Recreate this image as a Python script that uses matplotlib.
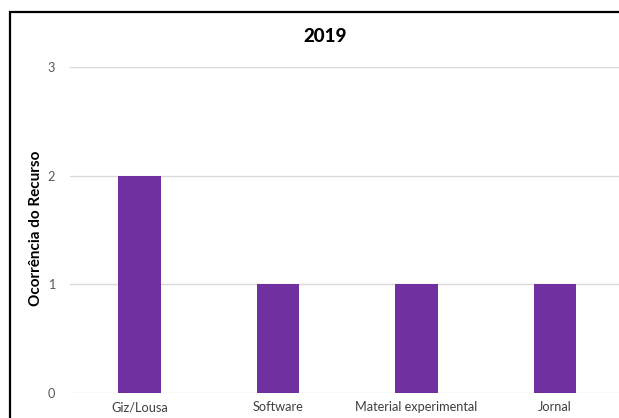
import matplotlib
matplotlib.use("Agg")
import matplotlib.pyplot as plt
from matplotlib.patches import Rectangle

categories = ["Giz/Lousa", "Software", "Material experimental", "Jornal"]
values = [2, 1, 1, 1]
yticks = [0, 1, 2, 3]

W, H = 619, 418
fig = plt.figure(figsize=(W / 100, H / 100), dpi=100)
plt.rcParams["font.family"] = ["Lato", "DejaVu Sans"]

# outer chart frame
fig.patches.append(Rectangle((9.5 / W, -0.1), 1.2, (H - 11.5) / H + 0.1,
                             transform=fig.transFigure, fill=False,
                             edgecolor="black", linewidth=1.6))

ax = fig.add_axes([70.25 / W, (H - 393) / H, 554 / W, 326 / H])
x = list(range(len(categories)))
ax.bar(x, values, width=0.31, color="#7030A0", zorder=3)
ax.set_xlim(-0.5, len(categories) - 0.5)
ax.set_ylim(0, 3)
ax.set_yticks(yticks)
ax.set_yticklabels([str(t) for t in yticks])
ax.set_xticks(x)
ax.set_xticklabels(categories)
ax.grid(axis="y", color="#d9d9d9", linewidth=1, zorder=0)
for s in ax.spines.values():
    s.set_visible(False)
ax.tick_params(axis="both", length=0, labelsize=9.2, colors="#404040")
ax.tick_params(axis="y", pad=11, colors="#595959")
ax.tick_params(axis="x", pad=6)

fig.text(36 / W, (H - 228) / H, "Ocorrência do Recurso", rotation=90,
         ha="center", va="center", fontsize=11, fontweight="bold")

fig.text(325 / W, (H - 37) / H, "2019", ha="center", va="center",
         fontsize=13.5, fontweight="black")

fig.savefig("out.png", dpi=100)
